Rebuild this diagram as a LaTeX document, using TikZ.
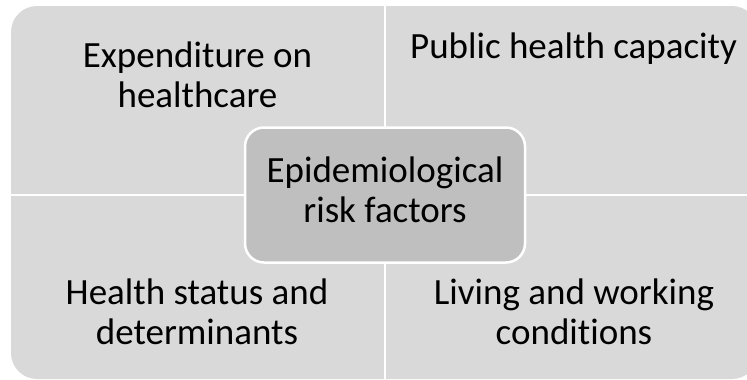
\documentclass[tikz,border=0pt]{standalone}
\usepackage{fontspec}
\setmainfont{Carlito}[Ligatures=NoCommon]
\definecolor{quadfill}{HTML}{D9D9D9}
\definecolor{hubfill}{HTML}{BFBFBF}
\begin{document}
\begin{tikzpicture}[x=1pt,y=-1pt,
  label text/.style={font=\fontsize{37}{40}\selectfont, align=center,
    inner sep=0pt, text height=27pt, text depth=9pt, text=black},
  two lines/.style={label text, text height=67pt},
  divider/.style={draw=white, line width=2.5pt},
  hub/.style={label text, text height=65pt, text depth=11pt,
    fill=hubfill, draw=white, line width=2.5pt,
    rounded corners=19pt, minimum width=280pt, minimum height=135pt}]
  \useasboundingbox (0,0) rectangle (747,380);
  \clip (0,0) rectangle (747,380);
  % matrix background with four quadrants
  \fill[quadfill, rounded corners=26pt] (11,6) rectangle (758,379);
  \coordinate (vtop) at (385,6);
  \coordinate (vbot) at (385,379);
  \coordinate (hleft) at (11,195);
  \coordinate (hright) at (758,195);
  \draw[divider] (vtop) -- (vbot);
  \draw[divider] (hleft) -- (hright);
  % quadrant labels
  \node[two lines] (q1) at (197.5,78) {Expenditure on\\healthcare};
  \node[label text] (q2) at (573.5,49) {Public health capacity};
  \node[two lines] (q3) at (197,315) {Health status and\\determinants};
  \node[two lines] (q4) at (574,315) {Living and working\\conditions};
  % central element
  \node[hub] (hub) at (385,195) {Epidemiological\\risk factors};
\end{tikzpicture}
\end{document}
